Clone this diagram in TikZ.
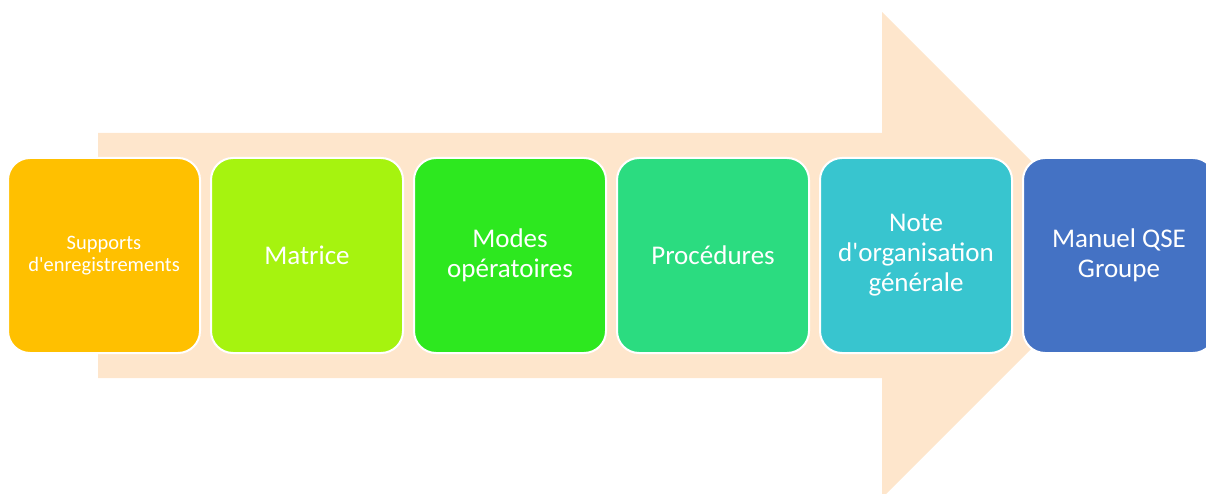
\documentclass[tikz,border=0pt]{standalone}
\usepackage{fontspec}
\setmainfont{Carlito}
\usetikzlibrary{positioning}

\definecolor{arrowfill}{HTML}{FEE6CC}
\definecolor{supportcol}{HTML}{FFC000}
\definecolor{matricecol}{HTML}{A6F30F}
\definecolor{modescol}{HTML}{2DE81F}
\definecolor{procedcol}{HTML}{2BDC80}
\definecolor{notecol}{HTML}{38C5CF}
\definecolor{manuelcol}{HTML}{4472C4}

\begin{document}
\begin{tikzpicture}[x=1pt, y=-1pt, node distance=9pt,
    stage/.style={draw=white, line width=2pt, rounded corners=22pt,
        minimum width=192pt, minimum height=195pt, inner sep=0pt,
        text=white, align=center, font=\fontsize{27}{30}\selectfont}]
    \useasboundingbox (0,0) rectangle (1206,494);
    \clip (0,0) rectangle (1206,494);

    % big arrow behind the stages
    \fill[arrowfill] (98,133) -- (882,133) -- (882,12) -- (1125,255)
        -- (882,498) -- (882,378) -- (98,378) -- cycle;

    \node[stage, fill=supportcol, font=\fontsize{20.5}{22}\selectfont] (supports) at (104,255.5) {Supports\\d\textquotesingle enregistrements};
    \node[stage, fill=matricecol, right=of supports] (matrice) {Matrice};
    \node[stage, fill=modescol, right=of matrice] (modes) {Modes\\opératoires};
    \node[stage, fill=procedcol, right=of modes] (procedures) {Procédures};
    \node[stage, fill=notecol, right=of procedures] (note) {Note\\d\textquotesingle organisation\\générale};
    \node[stage, fill=manuelcol, right=of note] (manuel) {Manuel QSE\\Groupe};
\end{tikzpicture}
\end{document}
